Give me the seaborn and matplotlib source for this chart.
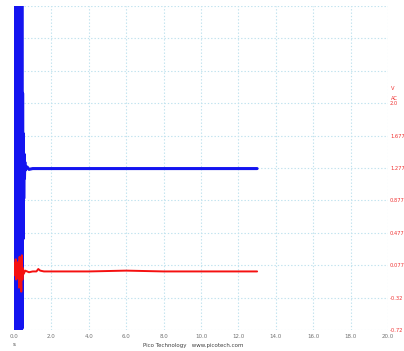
import matplotlib
matplotlib.use("Agg")
import matplotlib.pyplot as plt
import seaborn as sns
import pandas as pd

# Channel A (blue): start-up transient then steady level
blue_t = [0.00, 0.02, 0.04, 0.06, 0.08, 0.10, 0.12, 0.14, 0.16, 0.18, 0.20,
          0.22, 0.24, 0.26, 0.28, 0.30, 0.32, 0.34, 0.36, 0.38, 0.40, 0.42,
          0.44, 0.46, 0.48, 0.50, 0.52, 0.54, 0.56, 0.58, 0.60, 0.70, 0.80,
          1.0, 2.0, 3.0, 4.0, 5.0, 6.0, 7.0, 8.0, 9.0, 10.0, 11.0, 12.0, 13.0]
blue_v = [1.20, 3.40, -0.80, 3.40, -0.80, 3.40, -0.80, 3.40, -0.80, 3.40, -0.80,
          3.40, 0.20, 2.60, 1.00, 1.80, 0.90, 3.40, -0.80, 3.40, -0.80, 3.40,
          -0.70, 2.20, 0.40, 1.70, 0.90, 1.45, 1.15, 1.35, 1.25, 1.29, 1.26,
          1.27, 1.27, 1.27, 1.27, 1.27, 1.27, 1.27, 1.27, 1.27, 1.27, 1.27, 1.27, 1.27]

# Channel B (red): small transient then settles near zero
red_t = [0.00, 0.03, 0.06, 0.09, 0.12, 0.15, 0.18, 0.21, 0.24, 0.27, 0.30,
         0.33, 0.36, 0.39, 0.42, 0.45, 0.48, 0.52, 0.60, 0.80, 1.00, 1.20,
         1.30, 1.40, 1.60, 2.0, 4.0, 6.0, 8.0, 10.0, 12.0, 13.0]
red_v = [0.02, 0.10, -0.05, 0.15, -0.10, 0.05, 0.02, -0.08, 0.12, -0.20, 0.18,
         -0.15, 0.06, -0.25, 0.20, -0.10, 0.04, -0.03, 0.01, -0.01, 0.00, 0.00,
         0.03, 0.01, 0.00, 0.00, 0.00, 0.01, 0.00, 0.00, 0.00, 0.00]

x_ticks = [0.0, 2.0, 4.0, 6.0, 8.0, 10.0, 12.0, 14.0, 16.0, 18.0, 20.0]
y_ticks = [-0.723, -0.323, 0.077, 0.477, 0.877, 1.277, 1.677, 2.077]
y_tick_labels = ["-0.72", "-0.32", "0.077", "0.477", "0.877", "1.277", "1.677", "2.0"]

sns.set_style("white")
plt.rcParams["font.family"] = ["DejaVu Sans"]

fig = plt.figure(figsize=(4.04, 3.51), dpi=100)
ax = fig.add_axes([14 / 404, 21 / 351, 374 / 404, 324 / 351])

blue_df = pd.DataFrame({"t": blue_t, "v": blue_v})
red_df = pd.DataFrame({"t": red_t, "v": red_v})
sns.lineplot(data=blue_df, x="t", y="v", ax=ax, color="#1414f0", lw=2.2,
             estimator=None, sort=False, zorder=3)
sns.lineplot(data=red_df, x="t", y="v", ax=ax, color="#f51010", lw=1.4,
             estimator=None, sort=False, zorder=4)

ax.set_xlim(0, 20)
ax.set_ylim(-0.723, 3.277)
for s in ax.spines.values():
    s.set_visible(False)

grid_kw = dict(color="#bfe2ee", lw=0.8, ls=(0, (1.2, 1.8)), zorder=1)
for x in x_ticks:
    ax.axvline(x, **grid_kw)
for i in range(11):
    ax.axhline(-0.723 + 0.4 * i, **grid_kw)

ax.set_xticks(x_ticks)
ax.set_xticklabels([f"{v:.1f}" for v in x_ticks], color="#707070", fontsize=4)
ax.tick_params(axis="x", length=0, pad=3)
ax.set_xlabel("")
ax.set_ylabel("")

ax.yaxis.tick_right()
ax.set_yticks(y_ticks)
ax.set_yticklabels(y_tick_labels, color="#f03030", fontsize=3.7)
ax.tick_params(axis="y", length=0, pad=1.5)

fig.text(391 / 404, 1 - 89 / 351, "V", color="#f03030", fontsize=3.7, va="center")
fig.text(391 / 404, 1 - 99 / 351, "AC", color="#f03030", fontsize=3.7, va="center")
fig.text(14 / 404, 1 - 345 / 351, "s", color="#404040", fontsize=4, ha="center", va="center")
fig.text(143 / 404, 1 - 346 / 351, "Pico Technology   www.picotech.com",
         color="#404040", fontsize=4, ha="left", va="center")

fig.savefig("out.png", dpi=100)
